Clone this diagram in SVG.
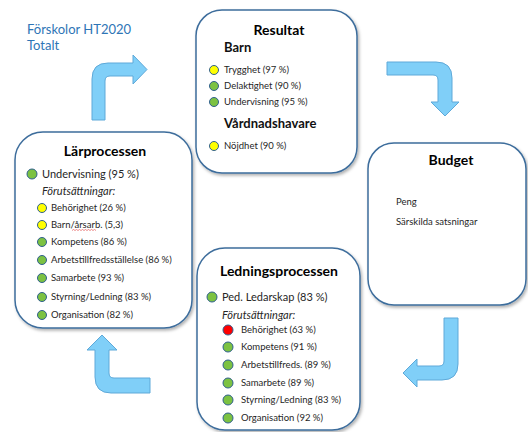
<svg xmlns="http://www.w3.org/2000/svg" width="528" height="432" viewBox="0 0 528 432">
<style>
text{font-family:Lato,"Liberation Sans",sans-serif;fill:#262626}
.box{fill:#fff;stroke:#3d6d9c;stroke-width:1.5;filter:url(#sh)}
.arr{fill:#80cff8;stroke:#5ea9d9;stroke-width:1}
.t{font-weight:bold;font-size:14px;text-anchor:middle;fill:#000}
.h{font-weight:bold;font-size:13px;fill:#111}
.s{font-size:9.5px}
.m{font-size:11px}
.i{font-size:11px;font-style:italic}
.y{fill:#ffff00;stroke:#2f5f8f;stroke-width:1}
.g{fill:#7cc242;stroke:#2f5f8f;stroke-width:1}
.r{fill:#ff0000;stroke:#2f5f8f;stroke-width:1}
</style>
<defs>
<filter id="sh" x="-10%" y="-10%" width="125%" height="125%">
<feDropShadow dx="1.5" dy="2" stdDeviation="1.5" flood-color="#000" flood-opacity="0.3"/>
</filter>
</defs>
<rect width="528" height="432" fill="#fff"/>
<text x="27" y="34" style="font-size:13px;fill:#2e75b6">Förskolor HT2020</text>
<text x="27" y="50" style="font-size:13px;fill:#2e75b6">Totalt</text>

<g id="connectors">
<path class="arr" d="M92,120 L92,79 Q92,63 108,63 L133,63 L133,55 L147,69.5 L133,84 L133,76 L110,76 Q105,76 105,81 L105,120 Z"/>
<path class="arr" d="M387,62 L436,62 Q452,62 452,78 L452,102 L459,102 L445,116 L431,102 L438,102 L438,80 Q438,75 433,75 L387,75 Z"/>
<path class="arr" d="M444,318 L458,318 L458,364 Q458,380 442,380 L417,380 L417,387 L403,373 L417,359 L417,366 L439,366 Q444,366 444,361 Z"/>
<path class="arr" d="M150,378 L150,393 L111,393 Q95,393 95,377 L95,350 L87,350 L102,335 L117,350 L109,350 L109,373 Q109,378 114,378 Z"/>
</g>

<g id="resultat">
<rect class="box" x="196" y="10" width="161" height="163" rx="26"/>
<text class="t" x="279" y="35">Resultat</text>
<text class="h" x="224" y="52">Barn</text>
<circle class="y" cx="214" cy="70" r="4.5"/><text class="s" x="224" y="73">Trygghet (97 %)</text>
<circle class="g" cx="214" cy="86" r="4.5"/><text class="s" x="224" y="89">Delaktighet (90 %)</text>
<circle class="g" cx="214" cy="102" r="4.5"/><text class="s" x="224" y="105">Undervisning (95 %)</text>
<text class="h" x="224" y="128">Vårdnadshavare</text>
<circle class="y" cx="214" cy="146" r="4.5"/><text class="s" x="224" y="149">Nöjdhet (90 %)</text>
</g>

<g id="larprocessen">
<rect class="box" x="15" y="132" width="177" height="196" rx="28"/>
<text class="t" x="105" y="156">Lärprocessen</text>
<circle class="g" cx="32" cy="174" r="5"/><text class="m" x="42" y="178">Undervisning (95 %)</text>
<text class="i" x="42" y="195">Förutsättningar:</text>
<circle class="y" cx="42" cy="208" r="4.5"/><text class="s" x="51" y="211">Behörighet (26 %)</text>
<circle class="y" cx="42" cy="225" r="4.5"/><text class="s" x="51" y="228">Barn/årsarb. (5,3)</text>
<path d="M72,230.5 l1.5,-1 1.5,1 1.5,-1 1.5,1 1.5,-1 1.5,1 1.5,-1 1.5,1 1.5,-1 1.5,1 1.5,-1 1.5,1 1.5,-1 1.5,1 1.5,-1 1.5,1" fill="none" stroke="#e04040" stroke-width="0.6"/>
<circle class="g" cx="42" cy="242" r="4.5"/><text class="s" x="51" y="245">Kompetens (86 %)</text>
<circle class="g" cx="42" cy="260" r="4.5"/><text class="s" x="51" y="263">Arbetstillfredsställelse (86 %)</text>
<circle class="g" cx="42" cy="278" r="4.5"/><text class="s" x="51" y="281">Samarbete (93 %)</text>
<circle class="g" cx="42" cy="297" r="4.5"/><text class="s" x="51" y="300">Styrning/Ledning (83 %)</text>
<circle class="g" cx="42" cy="315" r="4.5"/><text class="s" x="51" y="318">Organisation (82 %)</text>
</g>

<g id="ledningsprocessen">
<rect class="box" x="197" y="248" width="163" height="182" rx="28"/>
<text class="t" x="279" y="276">Ledningsprocessen</text>
<circle class="g" cx="212" cy="297" r="5"/><text class="m" x="222" y="301">Ped. Ledarskap (83 %)</text>
<text class="i" x="222" y="319">Förutsättningar:</text>
<circle class="r" cx="228" cy="330" r="5"/><text class="s" x="241" y="333">Behörighet (63 %)</text>
<circle class="g" cx="228" cy="347" r="5"/><text class="s" x="241" y="350">Kompetens (91 %)</text>
<circle class="g" cx="228" cy="365" r="5"/><text class="s" x="241" y="368">Arbetstillfreds. (89 %)</text>
<circle class="g" cx="228" cy="383" r="5"/><text class="s" x="241" y="386">Samarbete (89 %)</text>
<circle class="g" cx="228" cy="400" r="5"/><text class="s" x="241" y="403">Styrning/Ledning (83 %)</text>
<circle class="g" cx="228" cy="418" r="5"/><text class="s" x="241" y="421">Organisation (92 %)</text>
</g>

<g id="budget">
<rect class="box" x="368" y="143" width="158" height="162" rx="26"/>
<text class="t" x="451" y="165">Budget</text>
<text class="s" x="396" y="205">Peng</text>
<text class="s" x="396" y="225">Särskilda satsningar</text>
</g>
</svg>
